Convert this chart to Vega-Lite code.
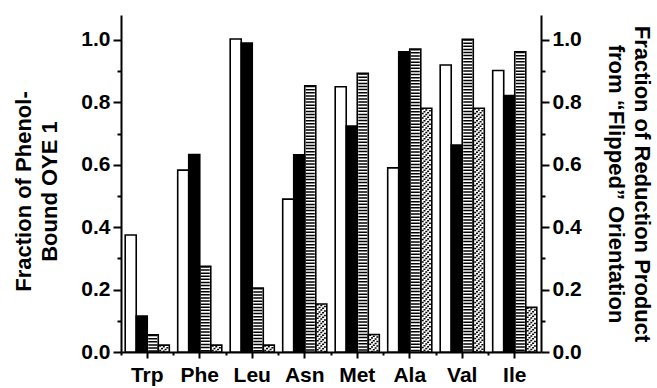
{
  "$schema": "https://vega.github.io/schema/vega-lite/v6.json",
  "width": 420,
  "height": 337,
  "autosize": {"type": "none"},
  "padding": {"left": 121, "top": 15, "right": 116, "bottom": 36},
  "background": "white",
  "config": {
    "view": {"stroke": null},
    "font": "Liberation Sans",
    "axis": {
      "grid": false,
      "domainColor": "black",
      "domainWidth": 2,
      "tickColor": "black",
      "tickWidth": 2,
      "labelColor": "black",
      "labelFont": "Liberation Sans",
      "labelFontWeight": "bold",
      "labelFontSize": 21,
      "titleColor": "black",
      "titleFont": "Liberation Sans",
      "titleFontWeight": "bold",
      "titleFontSize": 22,
      "titleLineHeight": 26
    }
  },
  "data": {
    "values": [
      {"aa": "Trp", "series": "A", "value": 0.375},
      {"aa": "Trp", "series": "B", "value": 0.115},
      {"aa": "Trp", "series": "C", "value": 0.055},
      {"aa": "Trp", "series": "D", "value": 0.022},
      {"aa": "Phe", "series": "A", "value": 0.583},
      {"aa": "Phe", "series": "B", "value": 0.633},
      {"aa": "Phe", "series": "C", "value": 0.275},
      {"aa": "Phe", "series": "D", "value": 0.022},
      {"aa": "Leu", "series": "A", "value": 1.003},
      {"aa": "Leu", "series": "B", "value": 0.99},
      {"aa": "Leu", "series": "C", "value": 0.205},
      {"aa": "Leu", "series": "D", "value": 0.022},
      {"aa": "Asn", "series": "A", "value": 0.49},
      {"aa": "Asn", "series": "B", "value": 0.632},
      {"aa": "Asn", "series": "C", "value": 0.853},
      {"aa": "Asn", "series": "D", "value": 0.154},
      {"aa": "Met", "series": "A", "value": 0.85},
      {"aa": "Met", "series": "B", "value": 0.724},
      {"aa": "Met", "series": "C", "value": 0.893},
      {"aa": "Met", "series": "D", "value": 0.056},
      {"aa": "Ala", "series": "A", "value": 0.59},
      {"aa": "Ala", "series": "B", "value": 0.962},
      {"aa": "Ala", "series": "C", "value": 0.971},
      {"aa": "Ala", "series": "D", "value": 0.781},
      {"aa": "Val", "series": "A", "value": 0.92},
      {"aa": "Val", "series": "B", "value": 0.663},
      {"aa": "Val", "series": "C", "value": 1.002},
      {"aa": "Val", "series": "D", "value": 0.781},
      {"aa": "Ile", "series": "A", "value": 0.902},
      {"aa": "Ile", "series": "B", "value": 0.822},
      {"aa": "Ile", "series": "C", "value": 0.962},
      {"aa": "Ile", "series": "D", "value": 0.143}
    ]
  },
  "layer": [
    {
      "mark": {"type": "bar", "strokeWidth": 0},
      "encoding": {
        "x": {"field": "aa", "type": "nominal", "sort": ["Trp", "Phe", "Leu", "Asn", "Met", "Ala", "Val", "Ile"],
              "scale": {"paddingInner": 0.16, "paddingOuter": 0.08},
              "axis": {"orient": "bottom", "title": null, "labelAngle": 0, "tickSize": 6, "labelPadding": 6, "domainWidth": 2}},
        "xOffset": {"field": "series", "type": "nominal", "scale": {"domain": ["A", "B", "C", "D"], "paddingInner": 0, "paddingOuter": 0}},
        "y": {"field": "value", "type": "quantitative",
              "scale": {"domain": [0, 1.08], "nice": false},
              "axis": {"orient": "left", "values": [0, 0.2, 0.4, 0.6, 0.8, 1.0], "format": ".1f", "tickSize": 8, "labelPadding": 3,
                       "title": ["Fraction of Phenol-", "Bound OYE 1"], "titlePadding": 19, "titleY": 176}},
        "fill": {"field": "series", "type": "nominal", "scale": {"domain": ["A", "B", "C", "D"], "range": ["white", "black", "white", "white"]}, "legend": null}
      }
    },
    {
      "transform": [{"filter": "datum.series === 'C'"}],
      "mark": {"type": "rule", "color": "black", "strokeWidth": 9, "strokeDash": [1.5, 1.6]},
      "encoding": {
        "x": {"field": "aa", "type": "nominal", "sort": ["Trp", "Phe", "Leu", "Asn", "Met", "Ala", "Val", "Ile"], "bandPosition": 0.625, "axis": null},
        "y": {"field": "value", "type": "quantitative",
              "axis": {"orient": "right", "values": [0, 0.2, 0.4, 0.6, 0.8, 1.0], "format": ".1f", "tickSize": 8, "labelPadding": 3,
                       "title": ["Fraction of Reduction Product", "from “Flipped” Orientation"], "titlePadding": 22}},
        "y2": {"datum": 0}
      }
    },
    {
      "transform": [{"filter": "datum.series === 'D'"}],
      "mark": {"type": "rule", "color": "black", "strokeWidth": 2, "strokeDash": [1.5, 3], "strokeDashOffset": 0},
      "encoding": {
        "x": {"field": "aa", "type": "nominal", "sort": ["Trp", "Phe", "Leu", "Asn", "Met", "Ala", "Val", "Ile"], "bandPosition": 0.7934,
              "axis": {"orient": "bottom", "bandPosition": -0.0952, "labels": false, "domain": false, "tickSize": 3, "title": null}},
        "y": {"field": "value", "type": "quantitative",
              "axis": {"orient": "left", "values": [0.1, 0.3, 0.5, 0.7, 0.9], "labels": false, "domain": false, "tickSize": 4, "title": null}},
        "y2": {"datum": 0}
      }
    },
    {
      "transform": [{"filter": "datum.series === 'D'"}],
      "mark": {"type": "rule", "color": "black", "strokeWidth": 2, "strokeDash": [1.5, 3], "strokeDashOffset": 1.8},
      "encoding": {
        "x": {"field": "aa", "type": "nominal", "sort": ["Trp", "Phe", "Leu", "Asn", "Met", "Ala", "Val", "Ile"], "bandPosition": 0.8342, "axis": null},
        "y": {"field": "value", "type": "quantitative",
              "axis": {"orient": "right", "values": [0.1, 0.3, 0.5, 0.7, 0.9], "labels": false, "domain": false, "tickSize": 4, "title": null}},
        "y2": {"datum": 0}
      }
    },
    {
      "transform": [{"filter": "datum.series === 'D'"}],
      "mark": {"type": "rule", "color": "black", "strokeWidth": 2, "strokeDash": [1.5, 3], "strokeDashOffset": 3.6},
      "encoding": {
        "x": {"field": "aa", "type": "nominal", "sort": ["Trp", "Phe", "Leu", "Asn", "Met", "Ala", "Val", "Ile"], "bandPosition": 0.875, "axis": null},
        "y": {"field": "value", "type": "quantitative", "axis": null},
        "y2": {"datum": 0}
      }
    },
    {
      "transform": [{"filter": "datum.series === 'D'"}],
      "mark": {"type": "rule", "color": "black", "strokeWidth": 2, "strokeDash": [1.5, 3], "strokeDashOffset": 5.4},
      "encoding": {
        "x": {"field": "aa", "type": "nominal", "sort": ["Trp", "Phe", "Leu", "Asn", "Met", "Ala", "Val", "Ile"], "bandPosition": 0.9158, "axis": null},
        "y": {"field": "value", "type": "quantitative", "axis": null},
        "y2": {"datum": 0}
      }
    },
    {
      "transform": [{"filter": "datum.series === 'D'"}],
      "mark": {"type": "rule", "color": "black", "strokeWidth": 2, "strokeDash": [1.5, 3], "strokeDashOffset": 7.2},
      "encoding": {
        "x": {"field": "aa", "type": "nominal", "sort": ["Trp", "Phe", "Leu", "Asn", "Met", "Ala", "Val", "Ile"], "bandPosition": 0.9566, "axis": null},
        "y": {"field": "value", "type": "quantitative", "axis": null},
        "y2": {"datum": 0}
      }
    },
    {
      "mark": {"type": "bar", "fillOpacity": 0, "stroke": "black", "strokeWidth": 1.6},
      "encoding": {
        "x": {"field": "aa", "type": "nominal", "sort": ["Trp", "Phe", "Leu", "Asn", "Met", "Ala", "Val", "Ile"], "axis": null},
        "xOffset": {"field": "series", "type": "nominal"},
        "y": {"field": "value", "type": "quantitative", "axis": null}
      }
    }
  ],
  "resolve": {"axis": {"x": "independent", "y": "independent"}}
}
